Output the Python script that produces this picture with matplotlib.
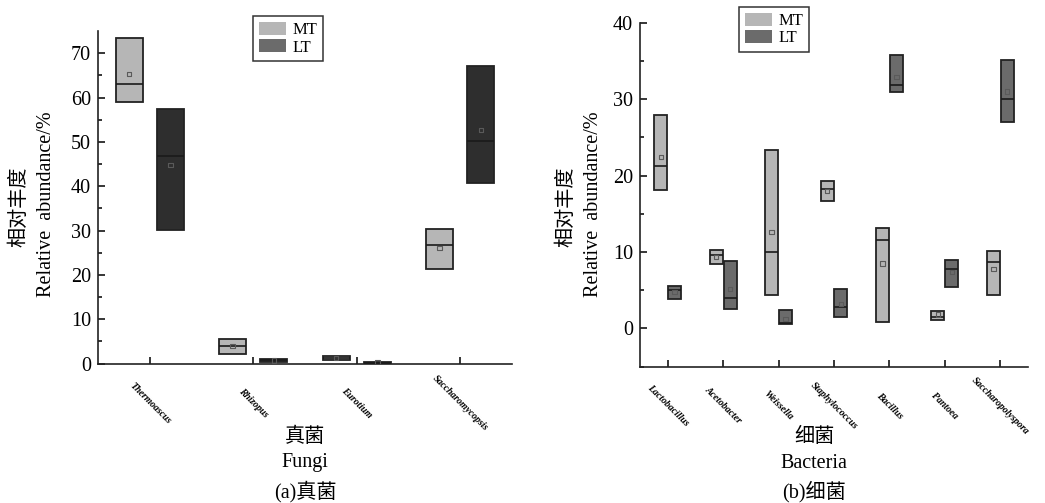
import numpy as np
import matplotlib
matplotlib.use('Agg')
import matplotlib.pyplot as plt
from matplotlib.patches import Patch

plt.rcParams['font.family'] = ['Liberation Serif', 'Noto Sans CJK SC']

# ─── Data ─────────────────────────────────────────────────────────────────────
FUNGI = ['Thermoascus', 'Rhizopus', 'Eurotium', 'Saccharomycopsis']
F_MT_LO  = [59.0, 2.1, 0.9, 21.3]
F_MT_HI  = [73.5, 5.6, 1.7, 30.4]
F_MT_MED = [63.0, 3.9, 1.3, 26.8]
F_MT_AVG = [65.3, 4.0, 1.3, 26.1]
F_LT_LO  = [30.2, 0.4, 0.05, 40.7]
F_LT_HI  = [57.5, 1.1, 0.35, 67.0]
F_LT_MED = [46.7, 0.7, 0.2, 50.3]
F_LT_AVG = [44.8, 0.7, 0.2, 52.7]

BACT = ['Lactobacillus', 'Acetobacter', 'Weissella', 'Staphylococcus',
        'Bacillus', 'Pantoea', 'Saccharopolyspora']
B_MT_LO  = [18.1, 8.4, 4.4, 16.7, 0.8, 1.15, 4.4]
B_MT_HI  = [27.9, 10.3, 23.3, 19.3, 13.2, 2.35, 10.1]
B_MT_MED = [21.3, 9.6, 10.0, 18.2, 11.6, 1.55, 8.7]
B_MT_AVG = [22.4, 9.35, 12.65, 18.0, 8.5, 1.85, 7.8]
B_LT_LO  = [3.8, 2.55, 0.55, 1.45, 30.9, 5.4, 27.0]
B_LT_HI  = [5.6, 8.8, 2.4, 5.15, 35.8, 8.9, 35.1]
B_LT_MED = [5.0, 4.0, 0.75, 2.85, 31.8, 7.8, 30.0]
B_LT_AVG = [4.8, 5.2, 1.25, 3.2, 32.9, 7.4, 31.0]

MT_COLOR   = '#b6b6b6'
LT_COLOR_F = '#2e2e2e'
LT_COLOR_B = '#6b6b6b'
LEG_LT     = '#6b6b6b'

W, H = 1045, 503


def draw_boxes(ax, xs, lo, hi, med, avg, color, width):
    lo, hi = np.array(lo), np.array(hi)
    ax.bar(xs, hi - lo, bottom=lo, width=width, color=color,
           edgecolor='#222222', linewidth=1.3, zorder=3)
    ax.hlines(med, xs - width / 2, xs + width / 2, color='#1a1a1a', lw=1.2, zorder=4)
    ax.scatter(xs, avg, marker='s', s=10, facecolor='none',
               edgecolor='#5a5a5a', linewidth=0.8, zorder=5)


def style_axis(ax, ylim, yticks, yminor, names, xlim):
    ax.set_xlim(*xlim)
    ax.set_ylim(*ylim)
    ax.set_facecolor('none')
    for s in ('top', 'right'):
        ax.spines[s].set_visible(False)
    for s in ('left', 'bottom'):
        ax.spines[s].set_linewidth(1.2)
        ax.spines[s].set_color('#222222')
    ax.set_yticks(yticks)
    ax.set_yticks(yminor, minor=True)
    ax.tick_params(axis='y', which='major', direction='in', length=5, width=1.1,
                   labelsize=14.5, pad=5)
    ax.tick_params(axis='y', which='minor', direction='in', length=3, width=1.1)
    ax.set_xticks(np.arange(1, len(names) + 1))
    ax.set_xticklabels(names, rotation=-45, ha='center', va='center',
                       fontsize=7, fontweight='bold', fontstyle='italic')
    ax.tick_params(axis='x', which='major', direction='in', length=5, width=1.1,
                   pad=28)


fig = plt.figure(figsize=(W / 100, H / 100), dpi=100)

# ─── (a) Fungi ────────────────────────────────────────────────────────────────
ax1 = fig.add_axes([98 / W, 1 - 364 / H, 414 / W, 333 / H])
xf = np.arange(1, len(FUNGI) + 1)
draw_boxes(ax1, xf - 0.2, F_MT_LO, F_MT_HI, F_MT_MED, F_MT_AVG, MT_COLOR, 0.26)
draw_boxes(ax1, xf + 0.2, F_LT_LO, F_LT_HI, F_LT_MED, F_LT_AVG, LT_COLOR_F, 0.26)
style_axis(ax1, (-0.1, 75), np.arange(0, 71, 10), np.arange(5, 75, 10),
           FUNGI, (0.5, 4.5))

# ─── (b) Bacteria ─────────────────────────────────────────────────────────────
ax2 = fig.add_axes([640 / W, 1 - 366.7 / H, 388 / W, 344 / H])
xb = np.arange(1, len(BACT) + 1)
draw_boxes(ax2, xb - 0.125, B_MT_LO, B_MT_HI, B_MT_MED, B_MT_AVG, MT_COLOR, 0.235)
draw_boxes(ax2, xb + 0.125, B_LT_LO, B_LT_HI, B_LT_MED, B_LT_AVG, LT_COLOR_B, 0.235)
style_axis(ax2, (-5, 40), np.arange(0, 41, 10), np.arange(-5, 40, 10),
           BACT, (0.5, 7.5))

# ─── Y labels (two lines, placed separately) ─────────────────────────────────
for xcn, xen in [(20, 47), (567, 593)]:
    fig.text(xcn / W, 1 - 207 / H, '相对丰度', rotation=90, ha='center',
             va='center', fontsize=14.5)
    fig.text(xen / W, 1 - 204 / H, 'Relative  abundance/%', rotation=90,
             ha='center', va='center', fontsize=14.5)

# ─── Legends ──────────────────────────────────────────────────────────────────
handles = [Patch(facecolor=MT_COLOR, edgecolor='none', label='MT'),
           Patch(facecolor=LEG_LT, edgecolor='none', label='LT')]
for x0, y0 in [(253, 16), (739, 7)]:
    leg = fig.legend(handles=handles, loc='upper left',
                     bbox_to_anchor=(x0 / W, 1 - y0 / H),
                     bbox_transform=fig.transFigure, fontsize=12,
                     frameon=True, fancybox=False, edgecolor='black',
                     handlelength=1.6, handleheight=0.85, handletextpad=0.4,
                     labelspacing=0.05, borderpad=0.35, borderaxespad=0)
    leg.get_frame().set_linewidth(1.1)

# ─── Axis titles / captions ──────────────────────────────────────────────────
for xc, lines in [(305, ['真菌', 'Fungi', '(a)真菌']),
                  (814, ['细菌', 'Bacteria', '(b)细菌'])]:
    for yc, txt in zip([437, 463, 492], lines):
        fig.text(xc / W, 1 - yc / H, txt, ha='center', va='center', fontsize=14.5)

fig.savefig('out.png', dpi=100)
